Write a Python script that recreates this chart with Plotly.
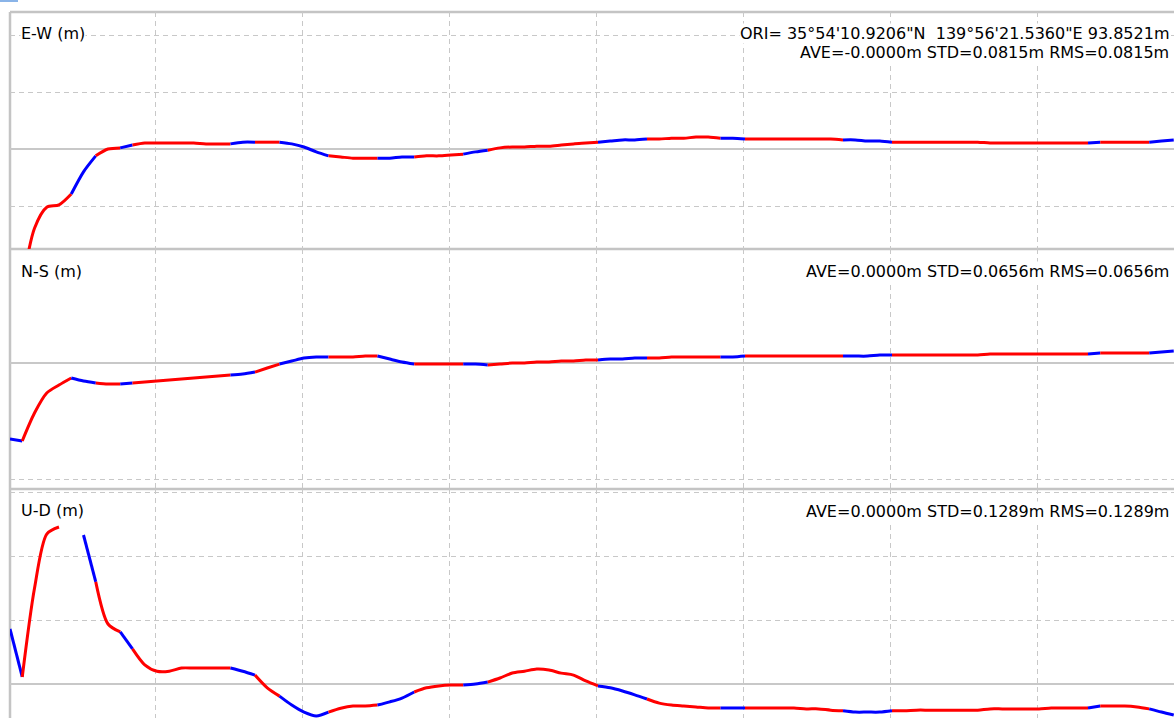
import plotly.graph_objects as go

# Epoch times (s) of the plotted solutions, one every 5 s
time_s = [5 * k for k in range(96)]

# Position residuals relative to ORI (m); None marks an epoch off the U-D scale
ew_m = [
    -0.326, -0.239, -0.139, -0.102, -0.098, -0.079, -0.040, -0.012,
    0.000, 0.002, 0.007, 0.0105, 0.0105, 0.0105, 0.0105, 0.0105,
    0.009, 0.009, 0.009, 0.012, 0.012, 0.012, 0.012, 0.009,
    0.0035, -0.005, -0.012, -0.014, -0.016, -0.016, -0.016, -0.016,
    -0.014, -0.014, -0.012, -0.012, -0.0105, -0.009, -0.005, -0.002,
    0.002, 0.0035, 0.0035, 0.005, 0.005, 0.007, 0.009, 0.0105,
    0.012, 0.014, 0.016, 0.016, 0.0175, 0.0175, 0.019, 0.019,
    0.021, 0.021, 0.019, 0.019, 0.0175, 0.0175, 0.0175, 0.0175,
    0.0175, 0.0175, 0.0175, 0.0175, 0.016, 0.016, 0.014, 0.014,
    0.012, 0.012, 0.012, 0.012, 0.012, 0.012, 0.012, 0.012,
    0.0105, 0.0105, 0.0105, 0.0105, 0.0105, 0.0105, 0.0105, 0.0105,
    0.0105, 0.012, 0.012, 0.012, 0.012, 0.012, 0.014, 0.016,
]
ns_m = [
    -0.0655, -0.0672, -0.0431, -0.0259, -0.0190, -0.0129, -0.0155, -0.0172,
    -0.0181, -0.0181, -0.0172, -0.0164, -0.0155, -0.0147, -0.0138, -0.0129,
    -0.0121, -0.0112, -0.0103, -0.0095, -0.0078, -0.0043, -0.0009, 0.0017,
    0.0043, 0.0052, 0.0052, 0.0052, 0.0052, 0.0060, 0.0060, 0.0034,
    0.0009, -0.0009, -0.0009, -0.0009, -0.0009, -0.0009, -0.0009, -0.0017,
    -0.0009, 0.0000, 0.0000, 0.0009, 0.0009, 0.0017, 0.0017, 0.0026,
    0.0026, 0.0034, 0.0034, 0.0043, 0.0043, 0.0043, 0.0052, 0.0052,
    0.0052, 0.0052, 0.0052, 0.0052, 0.0060, 0.0060, 0.0060, 0.0060,
    0.0060, 0.0060, 0.0060, 0.0060, 0.0060, 0.0060, 0.0060, 0.0069,
    0.0069, 0.0069, 0.0069, 0.0069, 0.0069, 0.0069, 0.0069, 0.0069,
    0.0078, 0.0078, 0.0078, 0.0078, 0.0078, 0.0078, 0.0078, 0.0078,
    0.0078, 0.0086, 0.0086, 0.0086, 0.0086, 0.0086, 0.0095, 0.0103,
]
ud_m = [
    0.0862, 0.011, 0.150, 0.235, 0.246, None, 0.2335, 0.160,
    0.094, 0.0815, 0.055, 0.030, 0.020, 0.020, 0.025, 0.025,
    0.025, 0.025, 0.025, 0.020, 0.014, -0.006, -0.019, -0.033,
    -0.044, -0.050, -0.044, -0.038, -0.0345, -0.0345, -0.033, -0.028,
    -0.022, -0.0125, -0.006, -0.003, -0.0016, -0.0016, 0.000, 0.003,
    0.0094, 0.0172, 0.020, 0.0235, 0.022, 0.017, 0.014, 0.0047,
    -0.003, -0.006, -0.011, -0.017, -0.0235, -0.030, -0.033, -0.0345,
    -0.036, -0.0376, -0.0376, -0.0376, -0.0376, -0.0376, -0.0376, -0.0376,
    -0.0376, -0.039, -0.039, -0.041, -0.042, -0.044, -0.044, -0.044,
    -0.042, -0.042, -0.041, -0.041, -0.041, -0.041, -0.041, -0.041,
    -0.039, -0.039, -0.039, -0.039, -0.039, -0.0376, -0.0376, -0.0376,
    -0.0376, -0.0345, -0.0345, -0.0345, -0.036, -0.039, -0.044, -0.0486,
]

# Solution quality of each epoch (1 and 2), shared by all components
quality = [
    2, 2, 1, 1, 1, 1, 2, 2,
    1, 1, 2, 1, 1, 1, 1, 1,
    1, 1, 1, 2, 2, 1, 1, 2,
    2, 2, 2, 1, 1, 1, 1, 2,
    2, 2, 1, 1, 1, 1, 2, 2,
    1, 1, 1, 1, 1, 1, 1, 1,
    1, 2, 2, 2, 2, 1, 1, 1,
    1, 1, 1, 2, 2, 1, 1, 1,
    1, 1, 1, 1, 1, 2, 2, 2,
    2, 1, 1, 1, 1, 1, 1, 1,
    1, 1, 1, 1, 1, 1, 1, 1,
    1, 2, 1, 1, 1, 1, 2, 2,
]
quality_colors = {1: "#ff0000", 2: "#0000ff"}

panel_labels = ["E-W (m)", "N-S (m)", "U-D (m)"]
origin_text = "ORI= 35\u00b054'10.9206\"N  139\u00b056'21.5360\"E 93.8521m"
stats_text = [
    "AVE=-0.0000m STD=0.0815m RMS=0.0815m",
    "AVE=0.0000m STD=0.0656m RMS=0.0656m",
    "AVE=0.0000m STD=0.1289m RMS=0.1289m",
]

W, H = 1174, 718
ML, MT = 10, 12
plot_w, plot_h = W - ML, H - MT

# Panel extents in pixels from the top of the page
panel_px = [(12, 249), (249, 489), (489, 718)]
y_ranges = [(-0.1754, 0.2404), (-0.1086, 0.0983), (-0.0533, 0.3056)]
x_range = (0, 1164 / 147 * 60)


def py(p):
    return (H - p) / plot_h


def px(p):
    return (p - ML) / plot_w


def color_runs(values):
    runs = []
    start = 1
    for i in range(2, len(values) + 1):
        if i == len(values) or quality[i] != quality[start]:
            runs.append((start - 1, i - 1, quality[start]))
            start = i
    return runs


fig = go.Figure()
series = [ew_m, ns_m, ud_m]
for row, vals in enumerate(series, start=1):
    suffix = "" if row == 1 else str(row)
    for a, b, q in color_runs(vals):
        fig.add_trace(go.Scatter(
            x=time_s[a:b + 1], y=vals[a:b + 1], mode="lines",
            line=dict(color=quality_colors[q], width=3, shape="spline", smoothing=0.8),
            connectgaps=False,
            xaxis="x" + suffix, yaxis="y" + suffix,
            showlegend=False, hoverinfo="skip",
        ))

grid_color = "#c8c8c8"
layout = dict(
    width=W, height=H,
    margin=dict(l=ML, r=0, t=MT, b=0, pad=0),
    paper_bgcolor="white", plot_bgcolor="white",
    showlegend=False,
)
for i, ((top, bot), yr) in enumerate(zip(panel_px, y_ranges), start=1):
    suffix = "" if i == 1 else str(i)
    layout["xaxis" + suffix] = dict(
        domain=[0, 1], anchor="y" + suffix, range=list(x_range),
        tick0=59.2, dtick=60, showgrid=True, gridcolor=grid_color,
        griddash="5px,4px", gridwidth=1, zeroline=False,
        showticklabels=False, ticks="", showline=False,
        **({} if i == 1 else {"matches": "x"}),
    )
    layout["yaxis" + suffix] = dict(
        domain=[py(bot), py(top)], anchor="x" + suffix, range=list(yr),
        tick0=0, dtick=0.1, showgrid=True, gridcolor=grid_color,
        griddash="5px,4px", gridwidth=1,
        zeroline=True, zerolinecolor=grid_color, zerolinewidth=2,
        showticklabels=False, ticks="", showline=False,
    )
fig.update_layout(**layout)

# Panel frame: top edge, left edge and separators between panels
frame = dict(color="#c4c4c4", width=2.5)
for p in (12, 249, 489):
    fig.add_shape(type="line", xref="paper", yref="paper",
                  x0=0, x1=1, y0=py(p), y1=py(p), line=frame, layer="below")
fig.add_shape(type="line", xref="paper", yref="paper",
              x0=0, x1=0, y0=0, y1=1, line=frame, layer="below")
fig.add_shape(type="line", xref="paper", yref="paper",
              x0=px(0), x1=px(18), y0=py(1), y1=py(1),
              line=dict(color="#8ab4e8", width=2))

font = dict(family="DejaVu Sans", size=16, color="#000000")


def label(text, x, y, xanchor):
    fig.add_annotation(text=text, xref="paper", yref="paper",
                       x=px(x), y=py(y), xanchor=xanchor, yanchor="middle",
                       showarrow=False, font=font, bgcolor="white", borderpad=0)


label(panel_labels[0], 20, 33, "left")
label(panel_labels[1], 20, 271, "left")
label(panel_labels[2], 20, 510, "left")
label(origin_text, 1170, 33, "right")
label(stats_text[0], 1170, 52, "right")
label(stats_text[1], 1170, 271, "right")
label(stats_text[2], 1170, 511, "right")

fig.write_html("out.html")
